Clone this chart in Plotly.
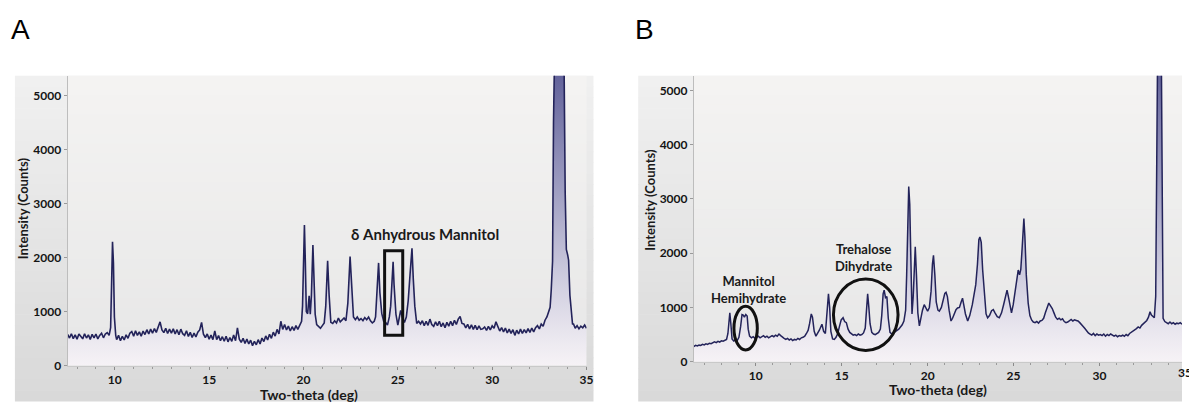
import plotly.graph_objects as go

# ---------------- data ----------------
# Panel A: two-theta (deg) and intensity (counts)
A_two_theta = [
    7.5, 7.6, 7.7, 7.8, 7.9, 8.0, 8.1, 8.2, 8.3, 8.4,
    8.5, 8.6, 8.7, 8.8, 8.9, 9.0, 9.1, 9.2, 9.3, 9.4,
    9.5, 9.6, 9.7, 9.78, 9.83, 9.88, 9.93, 9.98, 10.05, 10.1,
    10.2, 10.3, 10.4, 10.5, 10.6, 10.7, 10.8, 10.9, 11.0, 11.1,
    11.2, 11.3, 11.4, 11.5, 11.6, 11.7, 11.8, 11.9, 12.0, 12.1,
    12.2, 12.3, 12.4, 12.5, 12.6, 12.7, 12.8, 12.9, 13.0, 13.1,
    13.2, 13.3, 13.4, 13.5, 13.6, 13.7, 13.8, 13.9, 14.0, 14.1,
    14.2, 14.3, 14.4, 14.5, 14.6, 14.7, 14.8, 14.9, 15.0, 15.1,
    15.2, 15.3, 15.4, 15.5, 15.6, 15.7, 15.8, 15.9, 16.0, 16.1,
    16.2, 16.3, 16.4, 16.5, 16.6, 16.7, 16.8, 16.9, 17.0, 17.1,
    17.2, 17.3, 17.4, 17.5, 17.6, 17.7, 17.8, 17.9, 18.0, 18.1,
    18.2, 18.3, 18.4, 18.5, 18.6, 18.7, 18.8, 18.9, 19.0, 19.1,
    19.2, 19.3, 19.4, 19.5, 19.6, 19.7, 19.8, 19.9, 19.95, 20.0,
    20.05, 20.1, 20.15, 20.22, 20.3, 20.36, 20.42, 20.5, 20.56, 20.62,
    20.7, 20.8, 20.9, 21.0, 21.1, 21.18, 21.28, 21.36, 21.45, 21.55,
    21.65, 21.75, 21.85, 21.95, 22.05, 22.15, 22.25, 22.35, 22.47, 22.55,
    22.65, 22.75, 22.85, 22.95, 23.05, 23.15, 23.25, 23.35, 23.45, 23.55,
    23.65, 23.75, 23.82, 23.9, 23.98, 24.05, 24.15, 24.25, 24.35, 24.45,
    24.55, 24.62, 24.7, 24.75, 24.8, 24.9, 25.0, 25.08, 25.15, 25.25,
    25.35, 25.45, 25.55, 25.65, 25.75, 25.82, 25.9, 26.0, 26.1, 26.2,
    26.3, 26.4, 26.5, 26.6, 26.7, 26.8, 26.9, 27.0, 27.1, 27.2,
    27.3, 27.4, 27.5, 27.6, 27.7, 27.8, 27.9, 28.0, 28.1, 28.2,
    28.3, 28.4, 28.5, 28.6, 28.7, 28.8, 28.9, 29.0, 29.1, 29.2,
    29.3, 29.4, 29.5, 29.6, 29.7, 29.8, 29.9, 30.0, 30.1, 30.2,
    30.3, 30.4, 30.5, 30.6, 30.7, 30.8, 30.9, 31.0, 31.1, 31.2,
    31.3, 31.4, 31.5, 31.6, 31.7, 31.8, 31.9, 32.0, 32.1, 32.2,
    32.3, 32.4, 32.5, 32.6, 32.7, 32.8, 32.9, 33.0, 33.07, 33.13,
    33.2, 33.25, 33.3, 33.45, 33.65, 33.8, 33.87, 33.93, 34.0, 34.05,
    34.12, 34.2, 34.26, 34.3, 34.4, 34.5, 34.6, 34.7, 34.8, 34.9,
    35.0,
]
A_counts = [
    580, 510, 590, 500, 570, 490, 585, 530, 495, 590,
    510, 570, 485, 580, 515, 585, 495, 560, 600, 515,
    585, 610, 560, 700, 1500, 2290, 1900, 900, 560, 480,
    560, 460, 540, 475, 570, 505, 600, 630, 545, 645,
    560, 625, 545, 640, 575, 665, 585, 675, 600, 685,
    615, 720, 810, 660, 610, 690, 595, 675, 600, 680,
    585, 665, 570, 675, 590, 560, 645, 540, 615, 520,
    600, 530, 620, 660, 800, 580, 520, 585, 490, 565,
    480, 640, 480, 555, 460, 535, 450, 545, 440, 520,
    450, 565, 460, 700, 490, 430, 505, 410, 490, 400,
    470, 370, 450, 385, 480, 400, 510, 445, 550, 475,
    580, 505, 620, 545, 670, 585, 820, 670, 760, 660,
    730, 640, 720, 650, 740, 670, 760, 820, 1100, 2000,
    2600, 1900, 1000, 960, 1290, 950, 1300, 2230, 1700, 950,
    760, 720, 690, 740, 790, 1100, 1940, 1300, 800, 780,
    830, 790, 880, 810, 850, 880, 830, 1150, 2020, 1500,
    900, 850, 900, 840, 870, 830, 890, 850, 900, 830,
    790, 820, 900, 1400, 1900, 1350, 960, 820, 800, 750,
    900, 1100, 1600, 1920, 1500, 950, 750, 900, 1020, 880,
    800, 900, 1200, 1700, 2170, 1600, 1100, 780, 820, 770,
    830, 740, 820, 745, 860, 760, 725, 810, 740, 820,
    720, 790, 700, 800, 730, 820, 740, 840, 760, 860,
    910, 780, 770, 700, 765, 680, 755, 670, 745, 665,
    735, 670, 680, 715, 650, 725, 660, 735, 690, 810,
    710, 640, 705, 625, 695, 605, 675, 595, 665, 560,
    655, 585, 675, 595, 665, 605, 685, 615, 695, 625,
    700, 740, 680, 770, 730, 840, 900, 1000, 1080, 1400,
    1930, 4500, 7000, 9000, 8500, 6000, 3200, 2150, 2050, 1950,
    1300, 900, 760, 780, 690, 740, 680, 730, 700, 750,
    690,
]

# Panel B
B_two_theta = [
    6.4, 6.5, 6.6, 6.7, 6.8, 6.9, 7.0, 7.1, 7.2, 7.3,
    7.4, 7.5, 7.6, 7.7, 7.8, 7.9, 8.0, 8.1, 8.2, 8.3,
    8.38, 8.44, 8.49, 8.55, 8.62, 8.72, 8.82, 8.92, 9.02, 9.12,
    9.2, 9.27, 9.34, 9.42, 9.5, 9.56, 9.64, 9.75, 9.85, 9.95,
    10.05, 10.15, 10.25, 10.35, 10.45, 10.55, 10.65, 10.75, 10.85, 10.95,
    11.05, 11.15, 11.25, 11.35, 11.45, 11.55, 11.65, 11.75, 11.85, 11.95,
    12.05, 12.15, 12.25, 12.35, 12.45, 12.55, 12.65, 12.75, 12.85, 12.95,
    13.05, 13.13, 13.23, 13.3, 13.4, 13.5, 13.6, 13.7, 13.85, 13.95,
    14.05, 14.12, 14.18, 14.23, 14.3, 14.37, 14.47, 14.57, 14.67, 14.77,
    14.87, 14.97, 15.08, 15.17, 15.27, 15.37, 15.47, 15.57, 15.67, 15.77,
    15.87, 15.97, 16.07, 16.17, 16.27, 16.37, 16.44, 16.51, 16.58, 16.65,
    16.75, 16.85, 16.95, 17.05, 17.15, 17.25, 17.33, 17.41, 17.47, 17.55,
    17.63, 17.71, 17.81, 17.92, 18.02, 18.12, 18.22, 18.32, 18.42, 18.52,
    18.62, 18.72, 18.78, 18.84, 18.9, 18.96, 19.02, 19.09, 19.16, 19.22,
    19.28, 19.35, 19.43, 19.52, 19.6, 19.7, 19.8, 19.9, 20.0, 20.1,
    20.2, 20.28, 20.34, 20.42, 20.5, 20.6, 20.68, 20.8, 20.9, 21.0,
    21.07, 21.15, 21.25, 21.36, 21.45, 21.55, 21.65, 21.74, 21.85, 21.95,
    22.03, 22.1, 22.2, 22.33, 22.45, 22.6, 22.7, 22.8, 22.9, 22.98,
    23.04, 23.12, 23.2, 23.3, 23.4, 23.49, 23.6, 23.72, 23.82, 23.92,
    24.05, 24.17, 24.3, 24.42, 24.55, 24.62, 24.7, 24.8, 24.88, 24.98,
    25.08, 25.18, 25.27, 25.35, 25.42, 25.5, 25.56, 25.6, 25.66, 25.74,
    25.85, 25.95, 26.05, 26.15, 26.25, 26.35, 26.45, 26.55, 26.65, 26.75,
    26.85, 26.95, 27.05, 27.15, 27.25, 27.35, 27.45, 27.55, 27.65, 27.75,
    27.85, 27.95, 28.05, 28.15, 28.25, 28.35, 28.45, 28.55, 28.65, 28.75,
    28.85, 28.95, 29.05, 29.15, 29.25, 29.35, 29.45, 29.55, 29.65, 29.75,
    29.85, 29.95, 30.05, 30.15, 30.25, 30.35, 30.45, 30.55, 30.65, 30.75,
    30.85, 30.95, 31.05, 31.15, 31.25, 31.35, 31.45, 31.55, 31.65, 31.75,
    31.85, 31.95, 32.05, 32.15, 32.25, 32.35, 32.45, 32.55, 32.65, 32.75,
    32.85, 32.94, 33.02, 33.1, 33.19, 33.27, 33.33, 33.38, 33.46, 33.55,
    33.6, 33.65, 33.7, 33.8, 33.9, 34.0, 34.1, 34.2, 34.3, 34.4,
    34.5, 34.6, 34.7, 34.8,
]
B_counts = [
    280, 300, 290, 305, 300, 320, 310, 330, 318, 340,
    332, 350, 365, 352, 375, 362, 385, 378, 395, 410,
    520, 850, 900, 700, 420, 380, 400, 390, 450, 650,
    870, 860, 820, 870, 840, 600, 470, 440, 460, 430,
    450, 470, 440, 460, 480, 450, 470, 440, 460, 480,
    460, 490, 470, 510, 480, 450, 430, 410, 430, 400,
    420, 390, 410, 400, 430, 410, 440, 450, 470, 520,
    580, 700, 880, 820, 560, 470, 520, 580, 690, 560,
    520, 800, 1200, 1250, 1000, 560, 420, 410, 450, 520,
    650, 770, 810, 740, 720, 600, 540, 510, 490, 500,
    480, 510, 490, 500, 530, 620, 950, 1250, 1000, 700,
    540, 510, 500, 520, 540, 600, 850, 1250, 1320, 1180,
    1200, 800, 540, 510, 530, 550, 580, 600, 640, 680,
    750, 950, 1600, 2600, 3230, 2900, 1700, 880, 1200, 1850,
    2120, 1600, 900, 660, 800, 950, 1050, 980, 930, 1000,
    1300, 1800, 1960, 1600, 1100, 950, 930, 1000, 1150, 1260,
    1280, 1200, 950, 750, 800, 900, 960, 990, 1000, 1100,
    1170, 1050, 880, 750, 850, 1050, 1250, 1420, 1800, 2250,
    2300, 2200, 1700, 1200, 880, 810, 850, 940, 960, 900,
    830, 810, 900, 1050, 1250, 1320, 1200, 1000, 900, 1050,
    1300, 1550, 1690, 1600, 1700, 2100, 2500, 2640, 2300, 1600,
    1080, 850, 770, 730, 720, 740, 710, 750, 760, 800,
    900, 1000, 1080, 1030, 980, 900, 820, 780, 800, 770,
    790, 740, 720, 730, 760, 780, 750, 770, 760, 750,
    720, 690, 650, 610, 560, 530, 510, 490, 520, 480,
    510, 490, 500, 480, 510, 470, 500, 480, 510, 490,
    470, 490, 460, 480, 470, 490, 470, 500, 480, 520,
    540, 560, 580, 610, 640, 620, 670, 700, 720, 760,
    820, 920, 860, 830, 810, 1200, 4000, 7000, 9000, 8000,
    5500, 2000, 800, 740, 720, 700, 730, 700, 720, 690,
    710, 700, 720, 690,
]
assert len(A_two_theta) == len(A_counts)
assert len(B_two_theta) == len(B_counts)

y_ticks = [0, 1000, 2000, 3000, 4000, 5000]
A_x_ticks = [10, 15, 20, 25, 30, 35]
B_x_ticks = [10, 15, 20, 25, 30]

# annotation marks (data units)
A_box_theta = [24.3, 25.26]
A_box_counts = [564, 2127]
B_small_ellipse_theta = [8.73, 10.09]
B_small_ellipse_counts = [217, 1020]
B_big_ellipse_theta = [14.52, 18.28]
B_big_ellipse_counts = [205, 1522]

# ---------------- layout helpers ----------------
W, H = 1189, 408


def px(x):
    return x / W


def py(y):
    return 1 - y / H


def mix(c1, c2, t):
    a = [int(c1[i:i + 2], 16) for i in (1, 3, 5)]
    b = [int(c2[i:i + 2], 16) for i in (1, 3, 5)]
    return "rgb(%d,%d,%d)" % tuple(round(a[k] + (b[k] - a[k]) * t) for k in range(3))


shapes = []


def bands(x0, x1, y0, y1, ctop, cbot, n=30):
    h = (y1 - y0) / n
    for i in range(n):
        t = i / (n - 1)
        shapes.append(dict(
            type="rect", xref="paper", yref="paper", layer="below",
            x0=px(x0), x1=px(x1),
            y0=py(y0 + (i + 1) * h + 0.6), y1=py(y0 + i * h),
            fillcolor=mix(ctop, cbot, t), line=dict(width=0)))


# outer grey panels
bands(15, 597, 77, 408, "#f0f0f0", "#d9d9d9")
bands(642, 1189, 77, 408, "#f0f0f0", "#d9d9d9")
# plot areas
bands(68, 590, 77, 372, "#f4f3f2", "#e7e7e7")
bands(698, 1189, 77, 368, "#f4f3f2", "#e7e7e7")

# annotation shapes
shapes.append(dict(type="rect", xref="x", yref="y",
                   x0=A_box_theta[0], x1=A_box_theta[1],
                   y0=A_box_counts[0], y1=A_box_counts[1],
                   line=dict(color="#111111", width=3)))
shapes.append(dict(type="circle", xref="x2", yref="y2",
                   x0=B_small_ellipse_theta[0], x1=B_small_ellipse_theta[1],
                   y0=B_small_ellipse_counts[0], y1=B_small_ellipse_counts[1],
                   line=dict(color="#111111", width=3)))
shapes.append(dict(type="circle", xref="x2", yref="y2",
                   x0=B_big_ellipse_theta[0], x1=B_big_ellipse_theta[1],
                   y0=B_big_ellipse_counts[0], y1=B_big_ellipse_counts[1],
                   line=dict(color="#111111", width=3)))

LINE = "#23235a"
grad = dict(type="vertical", start=0, stop=5400,
            colorscale=[[0, "#f8f4f7"], [0.1, "#ece9f0"], [0.3, "#d0cee0"],
                        [0.6, "#a09fc2"], [1, "#62629a"]])

fig = go.Figure()
fig.add_trace(go.Scatter(x=A_two_theta, y=A_counts, mode="lines",
                         line=dict(color=LINE, width=1.6),
                         fill="tozeroy", fillgradient=grad,
                         xaxis="x", yaxis="y", showlegend=False,
                         hoverinfo="skip"))
fig.add_trace(go.Scatter(x=B_two_theta, y=B_counts, mode="lines",
                         line=dict(color=LINE, width=1.5),
                         fill="tozeroy", fillgradient=grad,
                         xaxis="x2", yaxis="y2", showlegend=False,
                         hoverinfo="skip"))

FONT = "Lato, 'Open Sans', sans-serif"
tickfont = dict(family=FONT, size=12, color="#141414", weight="bold")

xcommon = dict(showgrid=False, zeroline=False, showline=True,
               linecolor="#c9c9c9", linewidth=1,
               ticks="outside", ticklen=3, tickcolor="#8a8a8a",
               tickfont=tickfont,
               minor=dict(ticks="outside", dtick=1, ticklen=2, tickcolor="#9a9a9a"))
ycommon = dict(showgrid=False, zeroline=False, showline=True,
               linecolor="#bdbdbd", linewidth=1,
               ticks="outside", ticklen=3, tickcolor="#9a9a9a",
               tickvals=y_ticks, tickfont=tickfont)

fig.update_layout(
    width=W, height=H, autosize=False,
    margin=dict(l=0, r=0, t=0, b=0),
    paper_bgcolor="white", plot_bgcolor="rgba(0,0,0,0)",
    showlegend=False,
    xaxis=dict(domain=[px(68), px(590)], range=[7.5, 35.0],
               tickvals=A_x_ticks, anchor="y", **xcommon),
    yaxis=dict(domain=[py(372), py(77)], range=[0, 5364], anchor="x", **ycommon),
    xaxis2=dict(domain=[px(698), 1.0], range=[6.4, 34.8],
                tickvals=B_x_ticks, anchor="y2", **xcommon),
    yaxis2=dict(domain=[py(368), py(77)], range=[0, 5272], anchor="x2", **ycommon),
    shapes=shapes,
)

ann_font = dict(family=FONT, size=13, color="#1a1a1a")


def paper_note(text, x, y, font, **kw):
    return dict(text=text, x=px(x), y=py(y), xref="paper", yref="paper",
                xanchor="center", yanchor="middle", showarrow=False, font=font,
                borderpad=0, **kw)


def data_note(text, x, y, xref, yref, font=ann_font):
    return dict(text=text, x=x, y=y, xref=xref, yref=yref,
                xanchor="center", yanchor="middle", showarrow=False, font=font)


label_font = dict(family="Liberation Sans, Arial", size=28, color="black")
xt_font = dict(family=FONT, size=14, color="#1a1a1a")
annotations = [
    paper_note("A", 21, 30, label_font),
    paper_note("B", 648, 30, label_font),
    paper_note("<b>Intensity (Counts)</b>", 23, 212, ann_font, textangle=-90),
    paper_note("<b>Intensity (Counts)</b>", 653, 203, ann_font, textangle=-90),
    paper_note("<b>Two-theta (deg)</b>", 311, 401, xt_font),
    paper_note("<b>Two-theta (deg)</b>", 944, 396, xt_font),
    paper_note("<b>35</b>", 1192, 379, dict(family=FONT, size=12, color="#141414")),
    data_note("<b>δ Anhydrous Mannitol</b>", 26.45, 2436, "x", "y",
              dict(family=FONT, size=15, color="#1a1a1a")),
    data_note("<b>Mannitol<br>Hemihydrate</b>", 9.58, 1322, "x2", "y2"),
    data_note("<b>Trehalose<br>Dihydrate</b>", 16.25, 1926, "x2", "y2"),
]
fig.update_layout(annotations=annotations)

fig.write_html("out.html")
